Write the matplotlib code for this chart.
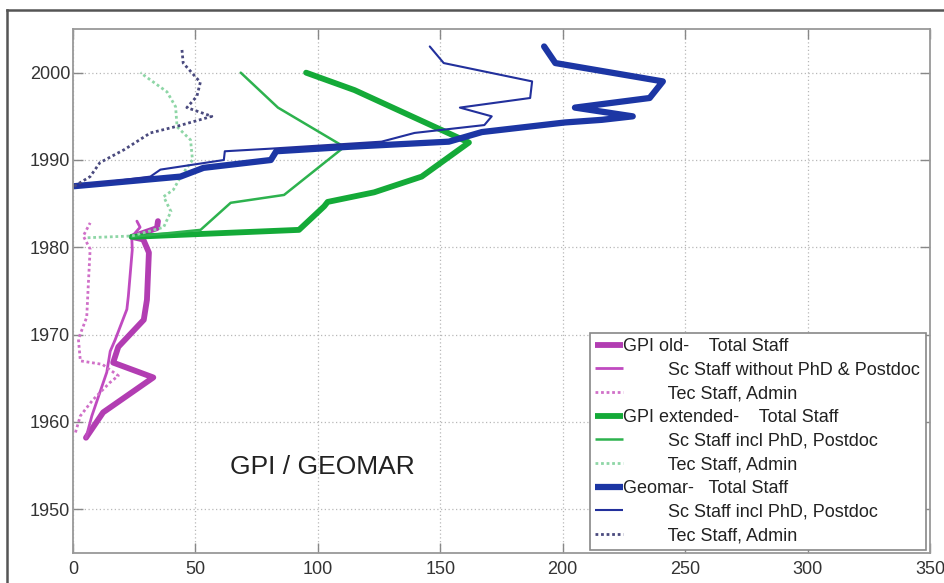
import matplotlib
matplotlib.use("Agg")
import matplotlib.pyplot as plt
from matplotlib.lines import Line2D

plt.rcParams['font.family'] = ['Liberation Sans', 'DejaVu Sans']

# ---- data: (staff count, year) ----
old_total_x = [5.3, 12.3, 32.8, 16.4, 18.5, 28.9, 30.2, 31.0, 28.7, 24.0, 34.3, 34.7]
old_total_y = [1958.2, 1961.1, 1965.1, 1966.8, 1968.6, 1971.7, 1974.0, 1979.4, 1980.9, 1981.2, 1982.2, 1983.0]

old_sc_x = [5.3, 7.7, 13.8, 15.2, 17.2, 22.0, 22.6, 24.2, 24.0, 27.4, 26.1]
old_sc_y = [1958.2, 1960.7, 1965.7, 1968.1, 1969.4, 1972.9, 1974.4, 1979.7, 1981.2, 1982.3, 1983.0]

old_tec_x = [1.0, 3.0, 8.0, 15.0, 18.5, 12.0, 3.0, 2.2, 5.6, 6.3, 7.0, 4.2, 7.0]
old_tec_y = [1958.8, 1960.7, 1962.5, 1964.5, 1965.3, 1966.6, 1967.0, 1969.5, 1972.0, 1976.0, 1979.8, 1981.3, 1982.8]

ext_total_x = [24.0, 92.3, 102.6, 104.0, 123.0, 142.4, 161.7, 115.0, 95.2]
ext_total_y = [1981.2, 1982.0, 1984.7, 1985.2, 1986.3, 1988.1, 1992.0, 1998.0, 2000.0]

ext_sc_x = [24.0, 52.1, 64.4, 86.2, 110.8, 83.7, 68.5]
ext_sc_y = [1981.2, 1982.0, 1985.1, 1986.0, 1991.5, 1996.0, 2000.0]

ext_tec_x = [6.0, 24.0, 37.0, 40.0, 37.0, 41.0, 44.0, 48.8, 48.0, 42.5, 41.9, 38.4, 27.5]
ext_tec_y = [1981.1, 1981.3, 1982.3, 1984.1, 1985.8, 1986.6, 1988.1, 1990.0, 1992.3, 1993.8, 1996.1, 1997.8, 2000.0]

geo_total_x = [0.5, 43.9, 53.3, 80.8, 83.0, 112.0, 153.5, 167.0, 201.0, 216.0, 228.6, 205.0, 235.5, 240.9, 197.0, 192.4]
geo_total_y = [1987.0, 1988.1, 1989.1, 1990.0, 1991.0, 1991.5, 1992.1, 1993.2, 1994.3, 1994.6, 1995.0, 1996.0, 1997.1, 1999.0, 2001.1, 2003.0]

geo_sc_x = [0.5, 31.6, 35.7, 61.6, 62.0, 80.8, 126.0, 139.5, 168.0, 171.0, 158.0, 186.7, 187.5, 151.4, 145.7]
geo_sc_y = [1987.0, 1988.1, 1988.9, 1990.0, 1991.0, 1991.3, 1992.1, 1993.1, 1994.0, 1995.0, 1996.0, 1997.1, 1999.0, 2001.1, 2003.0]

geo_tec_x = [0.5, 7.0, 11.0, 21.0, 31.6, 43.0, 56.7, 46.5, 50.6, 52.0, 45.0, 44.5]
geo_tec_y = [1987.0, 1988.1, 1989.7, 1991.2, 1993.1, 1993.9, 1995.0, 1996.0, 1997.3, 1998.9, 2001.1, 2002.6]

labels = [
    "GPI old-    Total Staff",
    "         Sc Staff without PhD & Postdoc",
    "         Tec Staff, Admin",
    "GPI extended-    Total Staff",
    "         Sc Staff incl PhD, Postdoc",
    "         Tec Staff, Admin",
    "Geomar-   Total Staff",
    "         Sc Staff incl PhD, Postdoc",
    "         Tec Staff, Admin",
]
x_ticks = [0, 50, 100, 150, 200, 250, 300, 350]
y_ticks = [1950, 1960, 1970, 1980, 1990, 2000]

# ---- styles ----
magenta = '#B23DB2'
magenta_thin = '#C04AC0'
magenta_dot = '#D070C8'
green = '#14AA38'
green_thin = '#2DB24E'
green_dot = '#8ED6A6'
blue = '#1C36A4'
blue_thin = '#22309C'
navy_dot = '#4A4A7E'
dot = (0, (1, 1))

fig = plt.figure(figsize=(9.45, 5.83), dpi=100)
ax = fig.add_axes([73/945, 1-553/583, (930-73)/945, (553-29)/583])

series = [
    (old_total_x, old_total_y, magenta, 4.2, '-'),
    (old_sc_x, old_sc_y, magenta_thin, 2.0, '-'),
    (old_tec_x, old_tec_y, magenta_dot, 2.0, dot),
    (ext_total_x, ext_total_y, green, 4.2, '-'),
    (ext_sc_x, ext_sc_y, green_thin, 1.8, '-'),
    (ext_tec_x, ext_tec_y, green_dot, 2.0, dot),
    (geo_total_x, geo_total_y, blue, 4.5, '-'),
    (geo_sc_x, geo_sc_y, blue_thin, 1.5, '-'),
    (geo_tec_x, geo_tec_y, navy_dot, 2.0, dot),
]
handles = []
for (xs, ys, c, lw, ls), lab in zip(series, labels):
    ax.plot(xs, ys, color=c, lw=lw, ls=ls, solid_joinstyle='round', solid_capstyle='round')
    handles.append(Line2D([0], [0], color=c, lw=lw, ls=ls, solid_capstyle='butt'))

ax.set_xlim(0, 350)
ax.set_ylim(1945, 2005)
ax.set_xticks(x_ticks)
ax.set_yticks(y_ticks)
ax.grid(True, color='#b8b8b8', ls=(0, (1, 2)), lw=0.9)
ax.tick_params(direction='in', length=7, width=1, color='#888888', labelcolor='#333333',
               labelsize=13, top=True, right=True)
ax.tick_params(axis='y', pad=2)
ax.tick_params(axis='x', pad=6)
for s in ax.spines.values():
    s.set_color('#999999')
    s.set_linewidth(1.3)

ax.text(64, 1954.9, 'GPI / GEOMAR', fontsize=19, color='#222222', va='center', ha='left')

leg = ax.legend(handles, labels, loc='lower right', bbox_to_anchor=(0.995, 0.006),
                borderaxespad=0, fontsize=13, handlelength=1.5, handletextpad=0.05,
                labelspacing=0.37, borderpad=0.3, fancybox=False, framealpha=1,
                edgecolor='#888888')
leg.get_frame().set_linewidth(1.2)
for t in leg.get_texts():
    t.set_color('#222222')

# outer frame of the picture
fig.add_artist(Line2D([7/945, 7/945], [0, 1-10/583], color='#555555', lw=1.8))
fig.add_artist(Line2D([7/945, 1], [1-10/583, 1-10/583], color='#555555', lw=1.8))

fig.savefig('out.png', dpi=100)
